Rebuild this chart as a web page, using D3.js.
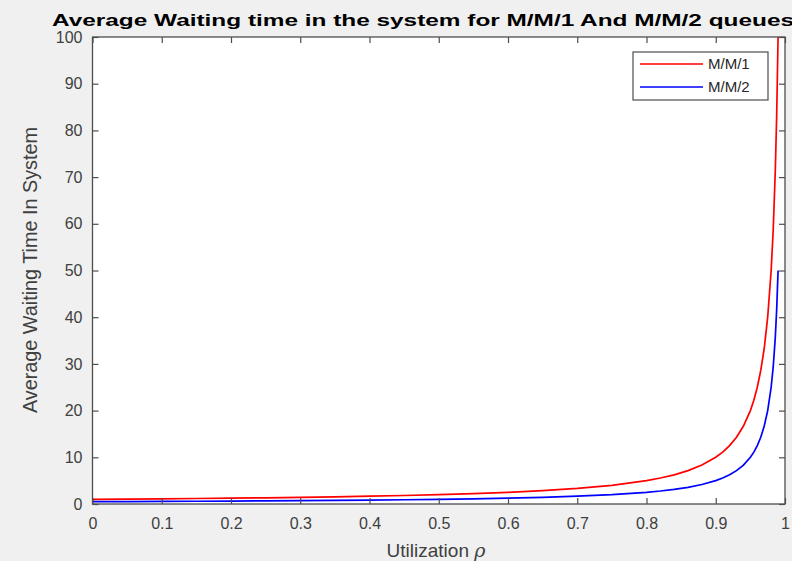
<!DOCTYPE html>
<html>
<head>
<meta charset="utf-8">
<script src="https://cdn.jsdelivr.net/npm/d3@7"></script>
<style>
  html, body { margin: 0; padding: 0; background: #f0f0f0; }
  svg { display: block; font-family: "Liberation Sans", Arial, sans-serif; }
</style>
</head>
<body>
<div id="chart-area"></div>
<script>
// values
const rho = [0, 0.05, 0.1, 0.15, 0.2, 0.25, 0.3, 0.35, 0.4, 0.45, 0.5, 0.55, 0.6, 0.65, 0.7, 0.75,
  0.8, 0.82, 0.84, 0.86, 0.88, 0.9, 0.91, 0.92, 0.93, 0.94, 0.95, 0.955, 0.96, 0.965, 0.97,
  0.975, 0.98, 0.983, 0.986, 0.988, 0.99]
const mm1 = [1, 1.05, 1.11, 1.18, 1.25, 1.33, 1.43, 1.54, 1.67, 1.82, 2, 2.22, 2.5, 2.86, 3.33, 4,
  5, 5.56, 6.25, 7.14, 8.33, 10, 11.1, 12.5, 14.3, 16.7, 20, 22.2, 25, 28.6, 33.3,
  40, 50, 58.8, 71.4, 83.3, 100]
const mm2 = [0.5, 0.53, 0.56, 0.59, 0.63, 0.67, 0.71, 0.77, 0.83, 0.91, 1, 1.11, 1.25, 1.43, 1.67, 2,
  2.5, 2.78, 3.13, 3.57, 4.17, 5, 5.56, 6.25, 7.14, 8.33, 10, 11.1, 12.5, 14.3, 16.7,
  20, 25, 29.4, 35.7, 41.7, 50]
const seriesNames = ["M/M/1", "M/M/2"]
const seriesColors = ["#ff0000", "#0000ff"]
const xTicks = [0, 0.1, 0.2, 0.3, 0.4, 0.5, 0.6, 0.7, 0.8, 0.9, 1]
const yTicks = [0, 10, 20, 30, 40, 50, 60, 70, 80, 90, 100]

const W = 792, H = 561
const MARGIN = { LEFT: 92.5, RIGHT: 7, TOP: 37, BOTTOM: 57 }
const WIDTH = W - MARGIN.LEFT - MARGIN.RIGHT
const HEIGHT = H - MARGIN.TOP - MARGIN.BOTTOM
const AXIS = "#4d4d4d"

const svg = d3.select("#chart-area").append("svg")
  .attr("width", W)
  .attr("height", H)

svg.append("rect").attr("width", W).attr("height", H).attr("fill", "#f0f0f0")

const g = svg.append("g")
  .attr("transform", `translate(${MARGIN.LEFT}, ${MARGIN.TOP})`)

g.append("rect")
  .attr("width", WIDTH)
  .attr("height", HEIGHT)
  .attr("fill", "#fff")

const x = d3.scaleLinear().domain([0, 1]).range([0, WIDTH])
const y = d3.scaleLinear().domain([0, 100]).range([HEIGHT, 0])

// series
const series = [mm1, mm2]
const line = d3.line()
  .x((d, i) => x(rho[i]))
  .y(d => y(d))

g.append("clipPath").attr("id", "clip")
  .append("rect").attr("width", WIDTH).attr("height", HEIGHT)

series.forEach((vals, k) => {
  g.append("path")
    .datum(vals)
    .attr("clip-path", "url(#clip)")
    .attr("fill", "none")
    .attr("stroke", seriesColors[k])
    .attr("stroke-width", 1.7)
    .attr("d", line)
})

// axes, ticks inside, mirrored on all four sides
const styleAxis = sel => {
  sel.select(".domain").remove()
  sel.selectAll(".tick line").attr("stroke", AXIS).attr("stroke-width", 1.2)
  sel.selectAll(".tick text")
    .attr("fill", "#404040")
    .attr("font-size", "16px")
}

g.append("g")
  .attr("transform", `translate(0, ${HEIGHT})`)
  .call(d3.axisBottom(x).tickValues(xTicks).tickFormat(d3.format("")).tickSizeInner(-6).tickPadding(14))
  .call(styleAxis)

g.append("g")
  .call(d3.axisTop(x).tickValues(xTicks).tickSizeInner(-6).tickFormat(""))
  .call(styleAxis)

g.append("g")
  .call(d3.axisLeft(y).tickValues(yTicks).tickSizeInner(-6).tickPadding(10))
  .call(styleAxis)

g.append("g")
  .attr("transform", `translate(${WIDTH}, 0)`)
  .call(d3.axisRight(y).tickValues(yTicks).tickSizeInner(-6).tickFormat(""))
  .call(styleAxis)

g.append("rect")
  .attr("width", WIDTH)
  .attr("height", HEIGHT)
  .attr("fill", "none")
  .attr("stroke", AXIS)
  .attr("stroke-width", 1.3)

// title
svg.append("text")
  .attr("x", 52)
  .attr("y", 26)
  .attr("text-anchor", "start")
  .attr("font-size", "17px")
  .attr("font-weight", "bold")
  .attr("fill", "#000")
  .attr("textLength", 742)
  .attr("lengthAdjust", "spacingAndGlyphs")
  .text("Average Waiting time in the system for M/M/1 And M/M/2 queues")

// X label
const xl = svg.append("text")
  .attr("x", 436)
  .attr("y", 557)
  .attr("text-anchor", "middle")
  .attr("font-size", "19px")
  .attr("fill", "#404040")
xl.append("tspan").text("Utilization ")
xl.append("tspan").attr("font-style", "italic").attr("font-family", "DejaVu Serif, serif").text("ρ")

// Y label
svg.append("text")
  .attr("transform", `translate(37, 270) rotate(-90)`)
  .attr("text-anchor", "middle")
  .attr("font-size", "21px")
  .attr("fill", "#404040")
  .attr("textLength", 286)
  .attr("lengthAdjust", "spacingAndGlyphs")
  .text("Average Waiting Time In System")

// legend
const legend = svg.append("g").attr("transform", "translate(633, 52)")
legend.append("rect")
  .attr("width", 135)
  .attr("height", 48)
  .attr("fill", "#fff")
  .attr("stroke", AXIS)
  .attr("stroke-width", 1.2)
seriesNames.forEach((name, k) => {
  const row = legend.append("g").attr("transform", `translate(0, ${12 + k * 23})`)
  row.append("line")
    .attr("x1", 7).attr("x2", 70)
    .attr("stroke", seriesColors[k])
    .attr("stroke-width", 1.5)
  row.append("text")
    .attr("x", 75)
    .attr("dy", "0.35em")
    .attr("font-size", "15px")
    .attr("fill", "#262626")
    .text(name)
})
</script>
</body>
</html>
